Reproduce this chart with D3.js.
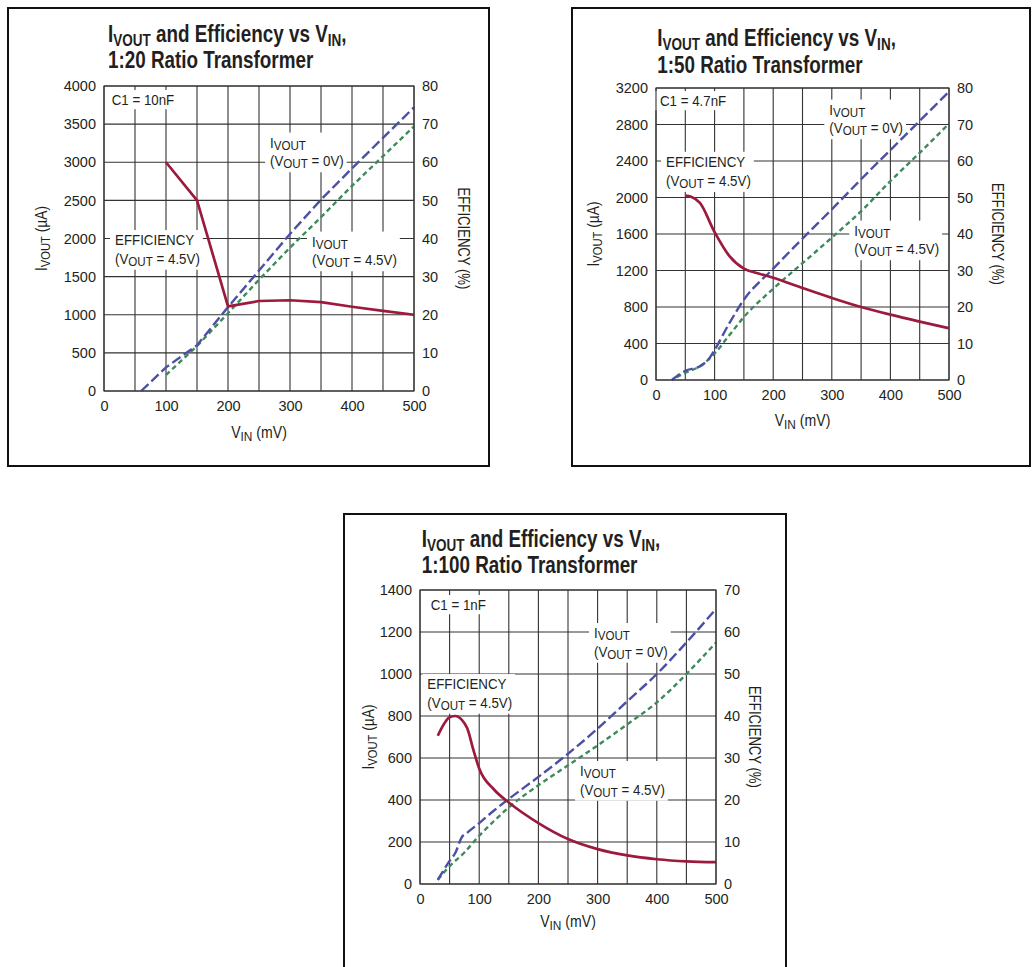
<!DOCTYPE html>
<html>
<head>
<meta charset="utf-8">
<script src="https://cdn.jsdelivr.net/npm/d3@7"></script>
<style>
  html, body { margin: 0; padding: 0; background: #fff; }
  svg { display: block; }
</style>
</head>
<body>
<svg id="fig" width="1032" height="967"></svg>
<script>
// ---- shared axis values ----
const vinTicks = [0, 100, 200, 300, 400, 500];
const vinGrid = d3.range(0, 501, 50);

// ---- 1:20 ratio transformer, C1 = 10nF ----
const r20CurrentTicks = [0, 500, 1000, 1500, 2000, 2500, 3000, 3500, 4000];
const r20EffTicks = [0, 10, 20, 30, 40, 50, 60, 70, 80];
const r20EffVin = [100, 150, 200, 250, 300, 350, 400, 450, 500];
const r20Eff = [60, 50, 22.2, 23.6, 23.8, 23.3, 22.1, 21.0, 20.0];
const r20Vout0Vin = [60, 100, 150, 200, 250, 300, 350, 400, 450, 500];
const r20Vout0 = [0, 310, 600, 1100, 1580, 2060, 2510, 2920, 3320, 3720];
const r20Vout45Vin = [100, 150, 200, 250, 300, 350, 400, 450, 500];
const r20Vout45 = [210, 590, 1020, 1460, 1880, 2280, 2690, 3080, 3470];

// ---- 1:50 ratio transformer, C1 = 4.7nF ----
const r50CurrentTicks = [0, 400, 800, 1200, 1600, 2000, 2400, 2800, 3200];
const r50EffTicks = [0, 10, 20, 30, 40, 50, 60, 70, 80];
const r50EffVin = [50, 60, 75, 100, 125, 150, 175, 200, 250, 300, 350, 400, 450, 500];
const r50Eff = [50.5, 50.2, 48.5, 40.5, 34, 30.5, 29.2, 28, 25.2, 22.5, 20, 17.9, 16, 14.2];
const r50Vout0Vin = [27, 50, 75, 90, 100, 125, 150, 200, 250, 300, 350, 400, 450, 500];
const r50Vout0 = [0, 100, 150, 230, 330, 620, 880, 1220, 1550, 1870, 2200, 2520, 2840, 3160];
const r50Vout45Vin = [35, 50, 75, 100, 125, 150, 200, 250, 300, 350, 400, 450, 500];
const r50Vout45 = [30, 80, 150, 290, 490, 690, 1000, 1280, 1560, 1850, 2180, 2490, 2810];

// ---- 1:100 ratio transformer, C1 = 1nF ----
const r100CurrentTicks = [0, 200, 400, 600, 800, 1000, 1200, 1400];
const r100EffTicks = [0, 10, 20, 30, 40, 50, 60, 70];
const r100EffVin = [30, 40, 50, 60, 70, 80, 90, 100, 125, 150, 200, 250, 300, 350, 400, 450, 500];
const r100Eff = [35.3, 38, 39.7, 40, 39.2, 37, 32, 27.5, 22.5, 19.4, 14.5, 10.7, 8.3, 6.8, 5.9, 5.4, 5.2];
const r100Vout0Vin = [30, 50, 60, 70, 80, 100, 125, 150, 200, 250, 300, 350, 400, 450, 500];
const r100Vout0 = [20, 110, 150, 220, 245, 290, 350, 405, 510, 620, 740, 870, 1000, 1150, 1310];
const r100Vout45Vin = [30, 50, 75, 100, 125, 150, 200, 250, 300, 350, 400, 450, 500];
const r100Vout45 = [20, 85, 150, 230, 300, 365, 470, 565, 660, 760, 865, 1000, 1150];

const zip = (xs, ys) => xs.map((v, i) => [v, ys[i]]);

const INK = "#231f20";
const SANS = "'Liberation Sans', Arial, sans-serif";
const C_EFF = "#9c1a3d";
const C_V0 = "#4b50a6";
const C_V45 = "#3e8a5c";

const svg = d3.select("#fig");

// writes a run of [text, isSubscript] pieces into a <text> element
function rich(textSel, parts, subSize, subShift) {
  let down = false;
  parts.forEach(([t, sub]) => {
    const ts = textSel.append("tspan").text(t);
    if (sub) {
      ts.attr("font-size", subSize);
      if (!down) { ts.attr("dy", subShift); down = true; }
    } else if (down) { ts.attr("dy", -subShift); down = false; }
  });
  return textSel;
}

// condensed text placed at (x, y), optionally rotated
function narrow(parent, x, y, size, opts = {}) {
  const rot = opts.rotate ? ` rotate(${opts.rotate})` : "";
  const sq = opts.squeeze || 0.82;
  return parent.append("text")
    .attr("transform", `translate(${x},${y})${rot} scale(${sq},1)`)
    .attr("text-anchor", opts.anchor || "start")
    .attr("font-family", SANS).attr("font-size", size)
    .attr("font-weight", opts.bold ? "bold" : "normal")
    .attr("fill", INK);
}

function panel(cfg) {
  const g = svg.append("g");
  const P = cfg.plot;

  g.append("rect")
    .attr("x", cfg.frame[0]).attr("y", cfg.frame[1])
    .attr("width", cfg.frame[2]).attr("height", cfg.frame[3])
    .attr("fill", "#fff").attr("stroke", "#111").attr("stroke-width", 2);

  const x = d3.scaleLinear().domain([0, 500]).range([P.left, P.right]);
  const yI = d3.scaleLinear().domain([0, cfg.iMax]).range([P.bottom, P.top]);
  const yE = d3.scaleLinear().domain([0, cfg.effMax]).range([P.bottom, P.top]);

  // title
  rich(narrow(g, cfg.title[0], cfg.title[1], 23, { bold: true }),
    [["I"], ["VOUT", 1], [" and Efficiency vs V"], ["IN", 1], [","]], 16.5, 4);
  narrow(g, cfg.title[0], cfg.title[1] + 26.5, 23, { bold: true })
    .text(cfg.ratio + " Ratio Transformer");

  // grid
  const grid = g.append("g").attr("stroke", "#333").attr("stroke-width", 1.1);
  grid.selectAll("line.v").data(vinGrid).join("line")
    .attr("x1", d => x(d)).attr("x2", d => x(d))
    .attr("y1", P.top).attr("y2", P.bottom);
  grid.selectAll("line.h").data(cfg.iTicks).join("line")
    .attr("x1", P.left).attr("x2", P.right)
    .attr("y1", d => yI(d)).attr("y2", d => yI(d));

  // tick labels via d3 axes
  const styleAxis = a => {
    a.select(".domain").remove();
    a.selectAll(".tick line").remove();
    a.selectAll("text").attr("font-family", SANS).attr("font-size", 14.5).attr("fill", INK);
  };
  g.append("g").attr("transform", `translate(${P.left},0)`)
    .call(d3.axisLeft(yI).tickValues(cfg.iTicks).tickSize(0).tickPadding(8).tickFormat(d3.format("d")))
    .call(styleAxis);
  g.append("g").attr("transform", `translate(${P.right},0)`)
    .call(d3.axisRight(yE).tickValues(cfg.effTicks).tickSize(0).tickPadding(8).tickFormat(d3.format("d")))
    .call(styleAxis);
  g.append("g").attr("transform", `translate(0,${P.bottom})`)
    .call(d3.axisBottom(x).tickValues(vinTicks).tickSize(0).tickPadding(10).tickFormat(d3.format("d")))
    .call(styleAxis);

  // axis titles
  const midY = (P.top + P.bottom) / 2;
  rich(narrow(g, cfg.yLabelX, midY, 16, { rotate: -90, anchor: "middle", squeeze: 0.86 }),
    [["I"], ["VOUT", 1], [" (µA)"]], 13, 3);
  narrow(g, cfg.effLabelX, midY, 16, { rotate: 90, anchor: "middle" }).text("EFFICIENCY (%)");
  rich(narrow(g, (P.left + P.right) / 2, cfg.xLabelY, 16, { anchor: "middle", squeeze: 0.88 }),
    [["V"], ["IN", 1], [" (mV)"]], 13.5, 3);

  // in-plot annotations, each on a white patch that breaks the grid
  const notes = g.append("g");
  const note = (pos, lines) => {
    const ng = notes.append("g");
    const bg = ng.append("rect").attr("fill", "#fff");
    lines.forEach((parts, i) => {
      rich(narrow(ng, P.left + pos[0], P.top + pos[1] + i * pos[2], 15.5, { squeeze: 0.86 }),
        parts, 13.5, 2);
    });
    const b = ng.node().getBBox();
    bg.attr("x", b.x - 5).attr("y", b.y - 1).attr("width", b.width + 8).attr("height", b.height + 2);
  };
  note(cfg.notes.c1, [[["C1 = " + cfg.c1]]]);
  note(cfg.notes.v0, [[["I"], ["VOUT", 1]], [["("], ["V"], ["OUT", 1], [" = 0V)"]]]);
  note(cfg.notes.eff, [[["EFFICIENCY"]], [["("], ["V"], ["OUT", 1], [" = 4.5V)"]]]);
  note(cfg.notes.v45, [[["I"], ["VOUT", 1]], [["("], ["V"], ["OUT", 1], [" = 4.5V)"]]]);

  // curves
  const lineI = d3.line().x(d => x(d[0])).y(d => yI(d[1])).curve(cfg.curve);
  const lineE = d3.line().x(d => x(d[0])).y(d => yE(d[1])).curve(cfg.effCurve);
  g.append("path").datum(cfg.vout45).attr("d", lineI)
    .attr("fill", "none").attr("stroke", C_V45).attr("stroke-width", 2.4).attr("stroke-dasharray", "5,3.5");
  g.append("path").datum(cfg.vout0).attr("d", lineI)
    .attr("fill", "none").attr("stroke", C_V0).attr("stroke-width", 2.4).attr("stroke-dasharray", "10,4");
  g.append("path").datum(cfg.eff).attr("d", lineE)
    .attr("fill", "none").attr("stroke", C_EFF).attr("stroke-width", 2.7).attr("stroke-linejoin", "round");

  // plot border
  g.append("rect").attr("x", P.left).attr("y", P.top)
    .attr("width", P.right - P.left).attr("height", P.bottom - P.top)
    .attr("fill", "none").attr("stroke", "#333").attr("stroke-width", 1.1);
}

panel({
  frame: [8, 8, 481, 458],
  plot: { left: 104, right: 414, top: 86, bottom: 391 },
  title: [108, 41.5], ratio: "1:20", c1: "10nF",
  iMax: 4000, effMax: 80, iTicks: r20CurrentTicks, effTicks: r20EffTicks,
  yLabelX: 47, effLabelX: 458, xLabelY: 438,
  notes: { c1: [7.7, 19, 18], v0: [166, 61.5, 18.5], eff: [11, 159, 18.5], v45: [208, 160.5, 18.5] },
  eff: zip(r20EffVin, r20Eff), vout0: zip(r20Vout0Vin, r20Vout0), vout45: zip(r20Vout45Vin, r20Vout45),
  curve: d3.curveLinear, effCurve: d3.curveLinear
});

panel({
  frame: [572, 8, 458, 458],
  plot: { left: 656, right: 949, top: 88, bottom: 380 },
  title: [657.3, 46], ratio: "1:50", c1: "4.7nF",
  iMax: 3200, effMax: 80, iTicks: r50CurrentTicks, effTicks: r50EffTicks,
  yLabelX: 599, effLabelX: 992, xLabelY: 426,
  notes: { c1: [4, 18, 18], v0: [173.3, 26.5, 18.5], eff: [10, 78.7, 19], v45: [198.3, 147.5, 18.5] },
  eff: zip(r50EffVin, r50Eff), vout0: zip(r50Vout0Vin, r50Vout0), vout45: zip(r50Vout45Vin, r50Vout45),
  curve: d3.curveMonotoneX, effCurve: d3.curveMonotoneX
});

panel({
  frame: [344, 514, 442, 470],
  plot: { left: 420, right: 716, top: 590, bottom: 884 },
  title: [421.7, 546.7], ratio: "1:100", c1: "1nF",
  iMax: 1400, effMax: 70, iTicks: r100CurrentTicks, effTicks: r100EffTicks,
  yLabelX: 374, effLabelX: 749, xLabelY: 927,
  notes: { c1: [10.7, 20, 18], v0: [174, 48, 18.5], eff: [7.3, 99, 18.5], v45: [160, 186, 18.5] },
  eff: zip(r100EffVin, r100Eff), vout0: zip(r100Vout0Vin, r100Vout0), vout45: zip(r100Vout45Vin, r100Vout45),
  curve: d3.curveMonotoneX, effCurve: d3.curveMonotoneX
});
</script>
</body>
</html>
